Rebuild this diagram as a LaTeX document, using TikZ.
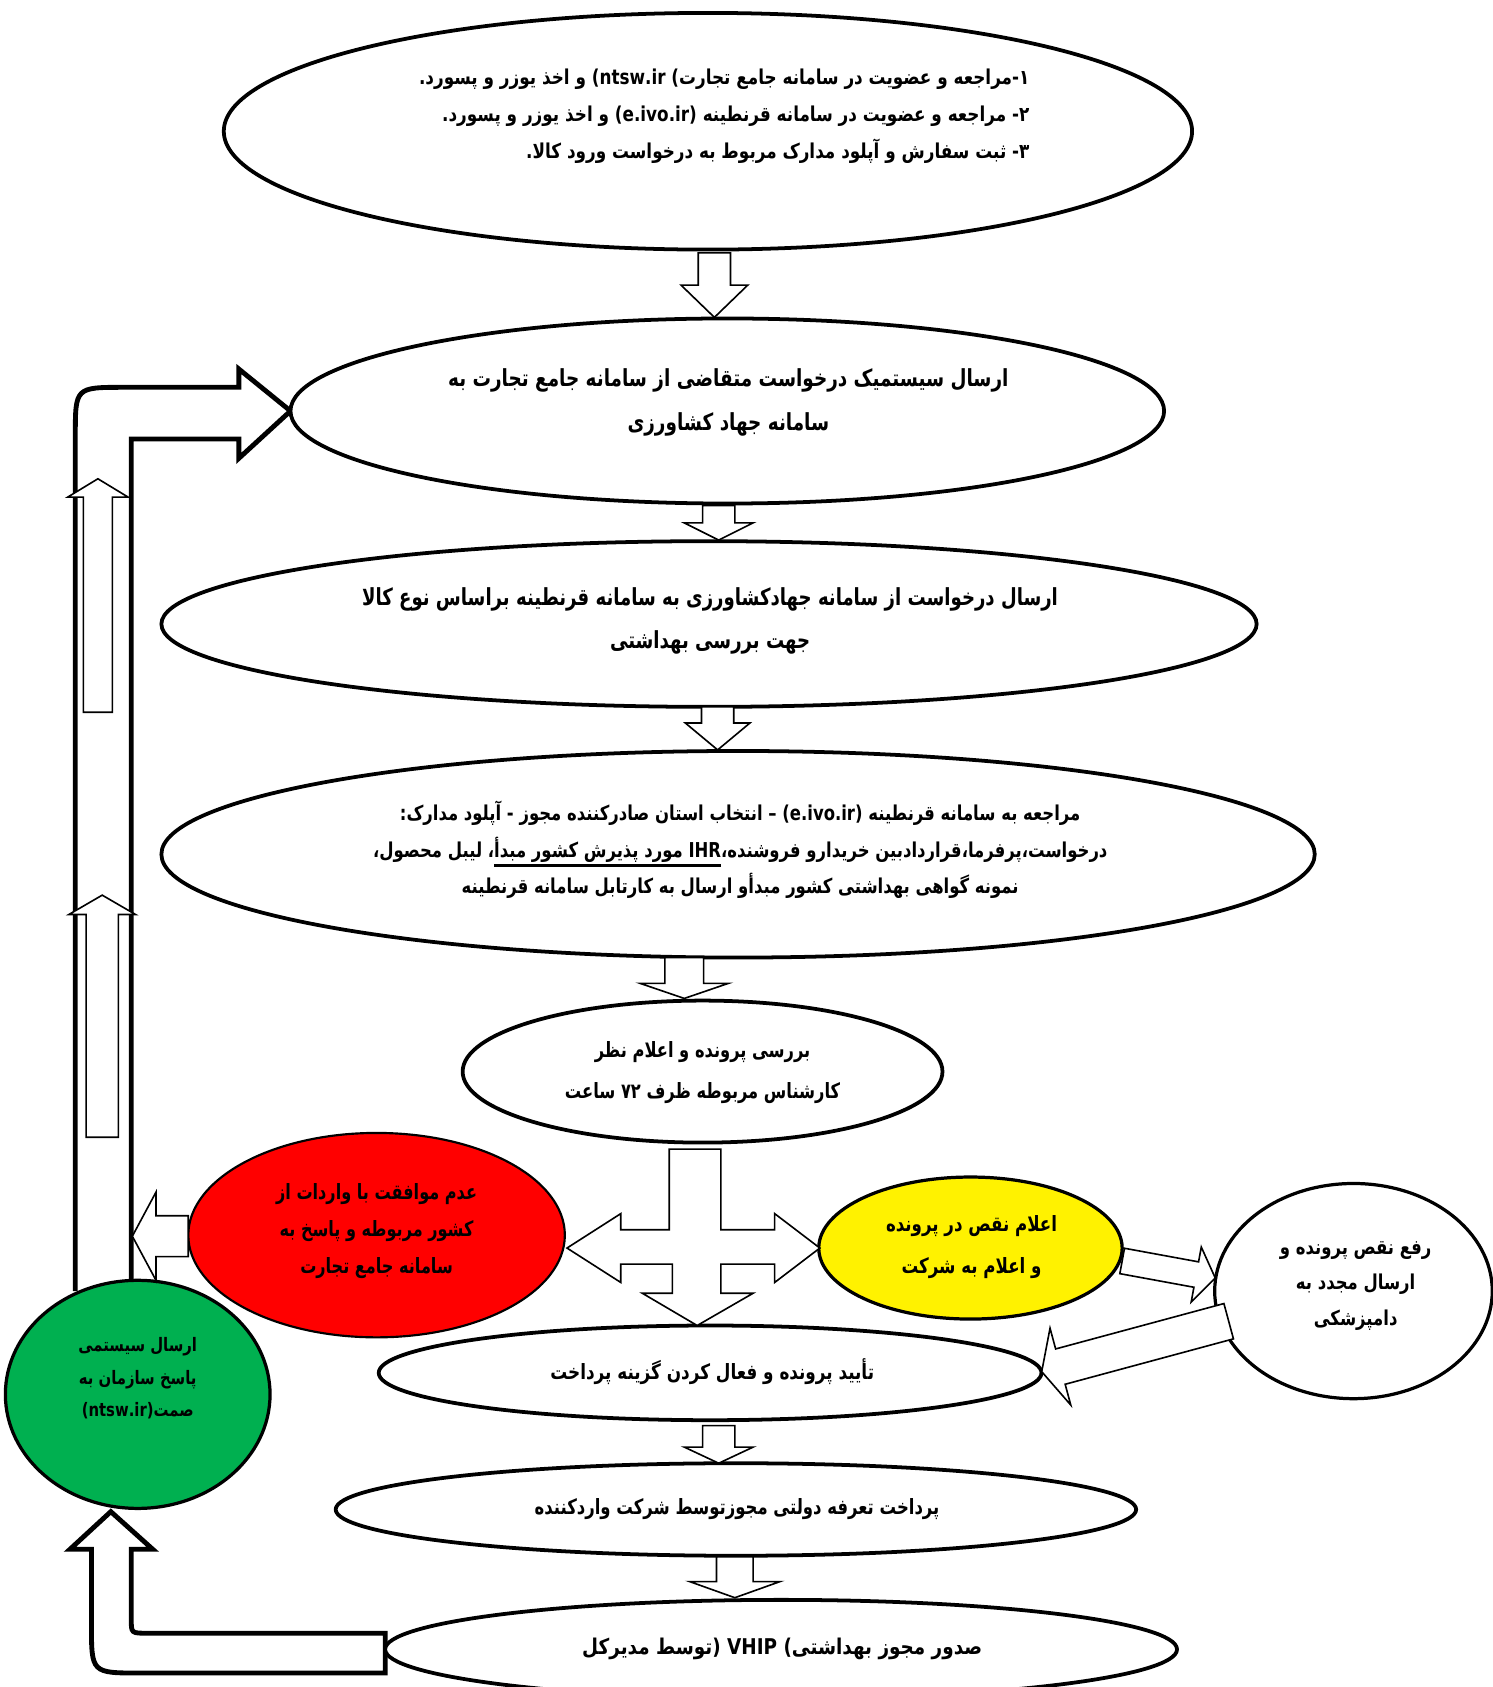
\documentclass[tikz,border=0pt]{standalone}
\usepackage{fontspec}
\usepackage{graphicx}
\newfontfamily\fa[Script=Arabic]{DejaVu Sans}
\TeXXeTstate=1
\usetikzlibrary{shapes.geometric}
\newcommand\myR[1]{\beginR #1\endR}
\newcommand\myL[1]{\beginL #1\endL{}}
\newcommand\thickul[1]{\vtop{\hbox{\myR{#1}}\kern1.5pt\hrule height 2.5pt}}
\def\kx{1}\def\ky{1}
\newcommand\SL[1]{\scalebox{\kx}[\ky]{\myR{#1}}}
\newcommand\blockarr[7]{\begin{scope}[shift={(#1,#2)},rotate=#3]
\draw[barr] (0,#5) -- ({#4-#7},#5) -- ({#4-#7},#6) -- (#4,0) -- ({#4-#7},-#6) -- ({#4-#7},-#5) -- (0,-#5) -- cycle;
\end{scope}}
\tikzset{
  ell/.style={ellipse, draw=black, line width=3.5pt, fill=white, inner sep=0pt},
  barr/.style={draw=black, line width=1.5pt, fill=white, line join=miter},
  band/.style={draw=black, line width=4.5pt, fill=white, line join=miter},
  txt/.style={inner sep=0pt, text=black, align=center},
  fs/.style n args={2}{font={\fa\bfseries\fontsize{#1}{#2}\selectfont}},
  sc/.style 2 args={execute at begin node={\def\kx{#1}\def\ky{#2}}},
}
\begin{document}
\begin{tikzpicture}[x=1pt,y=-1pt]
\fill[white] (0,0) rectangle (1387,1568);
\useasboundingbox (0,0) rectangle (1387,1568);
% feedback band (left) and bottom U arrow
\draw[band] (70,1200) -- (70,405) .. controls (70,360) .. (115,360) -- (222,360) -- (222,343) -- (270,382) -- (222,426) -- (222,408) -- (122,408) -- (122,1200);
\draw[band] (358,1518) -- (358,1555) -- (130,1555) .. controls (85,1555) .. (85,1510) -- (85,1440) -- (65,1440) -- (103,1405) -- (142,1440) -- (122,1440) -- (122,1505) .. controls (122,1518) .. (137,1518) -- cycle;
\blockarr{91}{662}{90}{217}{13.5}{28}{17}
\blockarr{95}{1057}{90}{225}{15}{31}{18}
% ellipses
\node[ell, minimum width=900, minimum height=220] (e1) at (658,122) {};
\node[ell, minimum width=812, minimum height=172] (e2) at (676,382) {};
\node[ell, minimum width=1018, minimum height=154] (e3) at (659,580) {};
\node[ell, minimum width=1072, minimum height=192] (e4) at (686,794) {};
\node[ell, minimum width=446, minimum height=132] (e5) at (653,996) {};
\node[ell, line width=2pt, fill=red, minimum width=350, minimum height=190] (red) at (350,1148) {};
\node[ell, line width=3pt, fill=yellow, minimum width=282, minimum height=132] (yel) at (902,1160) {};
\node[ell, line width=3pt, minimum width=258, minimum height=200] (fix) at (1258,1200) {};
\node[ell, minimum width=616, minimum height=88] (e6) at (660,1276) {};
\node[ell, line width=3pt, fill={rgb,255:red,0;green,176;blue,80}, minimum width=246, minimum height=212] (grn) at (128,1296) {};
\node[ell, minimum width=744, minimum height=86] (e7) at (684,1403) {};
\node[ell, minimum width=736, minimum height=92] (e8) at (726,1533) {};
% down arrows
\blockarr{664}{235}{-90}{60}{15}{31}{30}
\blockarr{668}{470}{-90}{32}{15}{32}{16}
\blockarr{667}{657}{-90}{40}{15}{30}{25}
\blockarr{636}{890}{-90}{38}{18}{41}{14}
\blockarr{668}{1325}{-90}{35}{15}{32}{15}
\blockarr{683}{1447}{-90}{38}{17}{42}{15}
% three-way arrow
\draw[barr] (622,1068) -- (670,1068) -- (670,1143) -- (720,1143) -- (720,1128) -- (762,1160) -- (720,1192) -- (720,1175) -- (670,1175) -- (670,1202) -- (700,1202) -- (648,1232) -- (597,1202) -- (625,1202) -- (625,1175) -- (577,1175) -- (577,1192) -- (527,1160) -- (577,1128) -- (577,1143) -- (622,1143) -- cycle;
% side arrows
\blockarr{175}{1149}{180}{52}{19}{41}{22}
\blockarr{1043}{1172}{-10.4}{88}{12}{26}{18}
\blockarr{1142}{1228}{-164.9}{180}{17}{37}{18}
% texts
\node[txt, fs={17}{34}, sc={0.92}{1.12}, align=right, anchor=east] (t1) at (957,108) {\SL{۱-مراجعه و عضویت در سامانه جامع تجارت\myL{(ntsw.ir )} و اخذ یوزر و پسورد.}\\ \SL{۲- مراجعه و عضویت در سامانه قرنطینه \myL{(e.ivo.ir)} و اخذ یوزر و پسورد.}\\ \SL{۳-  ثبت سفارش و  آپلود مدارک مربوط به درخواست ورود کالا.}};
\node[txt, fs={19}{41}, sc={0.9}{1.15}] (t2) at (677,374) {\SL{ارسال سیستمیک درخواست متقاضی از سامانه جامع تجارت به}\\ \SL{سامانه جهاد کشاورزی}};
\node[txt, fs={19}{40}, sc={0.885}{1.15}] (t3) at (660,577) {\SL{ارسال درخواست از سامانه جهادکشاورزی به سامانه قرنطینه براساس نوع کالا}\\ \SL{جهت بررسی بهداشتی}};
\node[txt, fs={17}{34}, sc={0.9}{1.12}] (t4) at (688,790) {\SL{مراجعه به سامانه قرنطینه \myL{(e.ivo.ir)} – انتخاب استان صادرکننده مجوز  - آپلود مدارک:}\\ \SL{درخواست،پرفرما،قراردادبین خریدارو فروشنده،\thickul{\myL{IHR} مورد پذیرش کشور مبدأ}، لیبل محصول،}\\ \SL{نمونه گواهی بهداشتی کشور مبدأو ارسال به کارتابل سامانه قرنطینه}};
\node[txt, fs={17}{38}, sc={0.89}{1.15}] (t5) at (653,997) {\SL{بررسی پرونده و اعلام نظر}\\ \SL{کارشناس مربوطه ظرف ۷۲ ساعت}};
\node[txt, fs={17}{34.5}, sc={0.88}{1.15}] (t6) at (350,1144) {\SL{عدم موافقت با واردات از}\\ \SL{کشور مربوطه و پاسخ به}\\ \SL{سامانه جامع تجارت}};
\node[txt, fs={17}{39}, sc={0.91}{1.15}] (t7) at (903,1159) {\SL{اعلام نقص در پرونده}\\ \SL{و اعلام به شرکت}};
\node[txt, fs={17}{33}, sc={0.9}{1.12}] (t8) at (1260,1195) {\SL{رفع نقص پرونده و}\\ \SL{ارسال مجدد به}\\ \SL{دامپزشکی}};
\node[txt, fs={15}{30.5}, sc={0.92}{1.15}] (t9) at (128,1281) {\SL{ارسال سیستمی}\\ \SL{پاسخ سازمان به}\\ \SL{صمت\myL{(ntsw.ir)}}};
\node[txt, fs={17}{36}, sc={0.92}{1.15}] (t10) at (662,1275) {\SL{تأیید پرونده و فعال کردن گزینه پرداخت}};
\node[txt, fs={17}{36}, sc={0.9}{1.15}] (t11) at (685,1403) {\SL{پرداخت تعرفه دولتی مجوزتوسط شرکت واردکننده}};
\node[txt, fs={18}{36}, sc={0.95}{1.12}] (t12) at (727,1533) {\SL{صدور مجوز بهداشتی\myL{( VHIP )}توسط مدیرکل}};
\end{tikzpicture}
\end{document}
